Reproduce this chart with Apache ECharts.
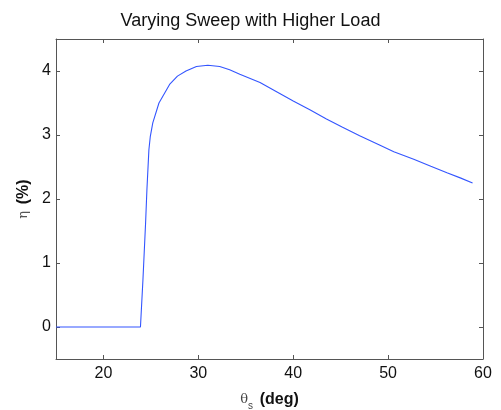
<!DOCTYPE html>
<html><head><meta charset="utf-8">
<script src="https://cdn.jsdelivr.net/npm/echarts@6/dist/echarts.min.js"></script>
<style>html,body{margin:0;padding:0;background:#fff}#c{width:501px;height:410px}</style>
</head><body><div id="c"></div>
<script>
var titleText = 'Varying Sweep with Higher Load';
var xTicks = [20, 30, 40, 50, 60];
var yTicks = [0, 1, 2, 3, 4];
var sweepDeg = [15, 23.9, 24.16, 24.44, 24.58, 24.79, 24.94, 25.2, 25.85, 26.97, 27.8, 28.7, 29.8, 31.0, 32.25, 33.3, 34.37, 36.5, 38.2, 40.0, 41.8, 43.5, 45.2, 47.0, 49.15, 50.6, 52.7, 54.5, 56.2, 57.6, 58.9];
var etaPct   = [0, 0, 0.73, 1.62, 2.14, 2.77, 2.98, 3.19, 3.50, 3.79, 3.92, 4.0, 4.07, 4.09, 4.07, 4.02, 3.95, 3.82, 3.68, 3.53, 3.39, 3.25, 3.12, 2.99, 2.84, 2.74, 2.62, 2.51, 2.41, 2.33, 2.25];

var pts = sweepDeg.map(function(x, i){ return [x, etaPct[i]]; });
var font = 'Liberation Sans, Arial, sans-serif';
var axLine = {show:true, onZero:false, lineStyle:{color:'#555', width:1}};
var tick = {show:true, inside:true, length:4, lineStyle:{color:'#555'}};
var chart = echarts.init(document.getElementById('c'));
chart.setOption({
  animation:false,
  title:{text:titleText, left:'center', top:7, textStyle:{fontFamily:font, fontSize:18, fontWeight:'normal', color:'#111'}},
  grid:{left:56, right:18, top:39, bottom:51, containLabel:false, outerBoundsMode:'none'},
  xAxis:[{type:'value', min:15, max:60, interval:5, position:'bottom',
    axisLine:axLine, axisTick:Object.assign({}, tick, {customValues:xTicks}),
    axisLabel:{customValues:xTicks, fontFamily:font, fontSize:16, color:'#111', margin:7},
    splitLine:{show:false},
    name:'{t|θ}{s|s}  {b|(deg)}', nameLocation:'middle', nameGap:30,
    nameTextStyle:{rich:{
      t:{fontFamily:'DejaVu Serif, serif', fontSize:13, color:'#444'},
      s:{fontFamily:font, fontSize:10, color:'#444', verticalAlign:'bottom', padding:[12,0,0,0]},
      b:{fontFamily:font, fontSize:16, fontWeight:'bold', color:'#111'}}}
  },{type:'value', min:15, max:60, position:'top',
    axisLine:axLine, axisTick:Object.assign({}, tick, {customValues:xTicks}),
    axisLabel:{show:false}, splitLine:{show:false}}],
  yAxis:[{type:'value', min:-0.5, max:4.5, position:'left',
    axisLine:axLine, axisTick:Object.assign({}, tick, {customValues:yTicks}),
    axisLabel:{customValues:yTicks, fontFamily:font, fontSize:16, color:'#111', margin:5},
    splitLine:{show:false},
    name:'{e|η}  {b|(%)}', nameLocation:'middle', nameGap:19, nameRotate:90,
    nameTextStyle:{rich:{
      e:{fontFamily:'DejaVu Serif, serif', fontSize:13, color:'#555'},
      b:{fontFamily:font, fontSize:16, fontWeight:'bold', color:'#111'}}}
  },{type:'value', min:-0.5, max:4.5, position:'right',
    axisLine:axLine, axisTick:Object.assign({}, tick, {customValues:yTicks}),
    axisLabel:{show:false}, splitLine:{show:false}}],
  series:[{type:'line', data:pts, showSymbol:false, smooth:false,
    lineStyle:{color:'#3355ff', width:1.1}}]
});
</script></body></html>
